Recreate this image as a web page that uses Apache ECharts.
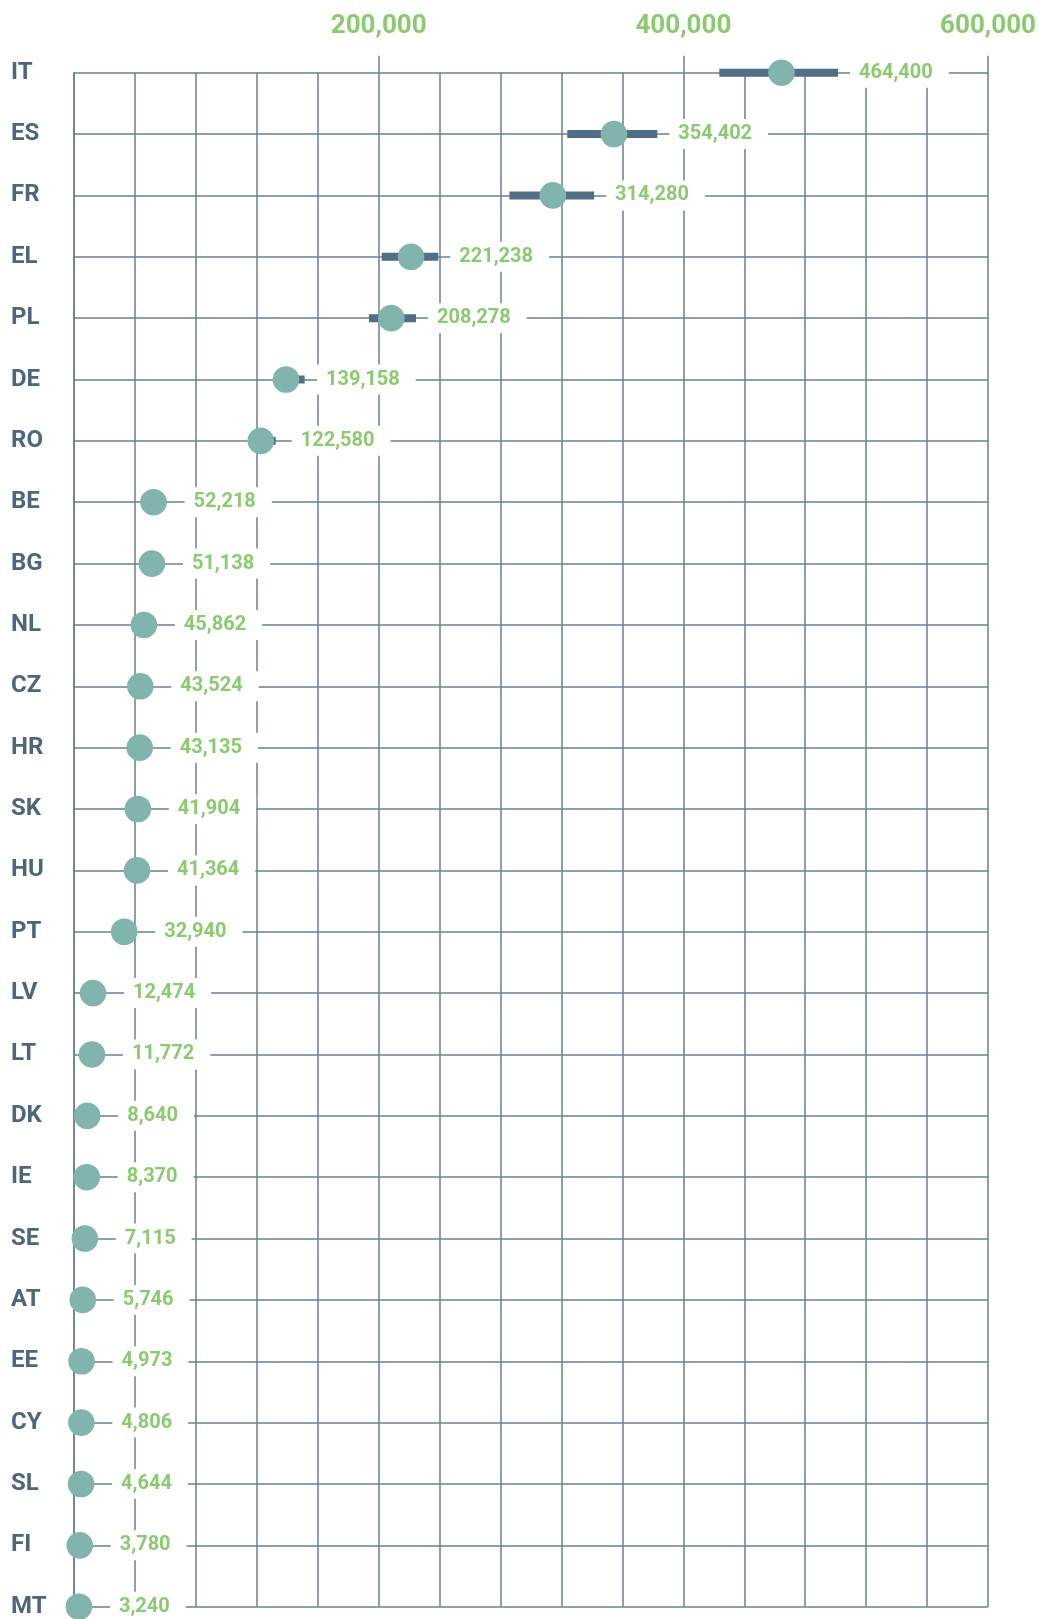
<!DOCTYPE html>
<html>
<head>
<meta charset="utf-8">
<script src="https://cdn.jsdelivr.net/npm/echarts@6/dist/echarts.min.js"></script>
<style>
html,body{margin:0;padding:0;background:#fff;}
#c{width:1039px;height:1619px;}
</style>
</head>
<body>
<div id="c"></div>
<script>
const categories = ['IT','ES','FR','EL','PL','DE','RO','BE','BG','NL','CZ','HR','SK','HU','PT','LV','LT','DK','IE','SE','AT','EE','CY','SL','FI','MT'];
const values = [464400,354402,314280,221238,208278,139158,122580,52218,51138,45862,43524,43135,41904,41364,32940,12474,11772,8640,8370,7115,5746,4973,4806,4644,3780,3240];
const lowerBounds = [423600,323800,285800,202000,193600,133000,116500,49000,48000,43000,40800,40500,39300,38800,30900,11700,11000,8100,7800,6600,5400,4600,4500,4300,3500,3000];
const upperBounds = [501500,382900,341400,239100,224500,151400,132400,55400,54300,48700,46200,45800,44500,43900,35000,13200,12500,9200,8900,7600,6100,5300,5100,5000,4100,3500];
const majorTicks = [200000,400000,600000];

const GRID = '#687f96';
const GREEN = '#8cca72';
const SLATE = '#4e667c';
const CIRCLE = '#82b4ae';
const BAR = '#516e86';

const data = categories.map((c,i)=>[values[i], i, lowerBounds[i], upperBounds[i]]);

const chart = echarts.init(document.getElementById('c'));
chart.setOption({
  animation:false,
  backgroundColor:'#fff',
  grid:{left:74, right:50.7, top:72.7, bottom:12.3},
  xAxis:[{
    type:'value', min:0, max:600000, interval:40000, position:'top',
    axisLine:{show:false}, axisTick:{show:false}, axisLabel:{show:false},
    splitLine:{show:true, lineStyle:{color:GRID, width:1.5}}
  },{
    type:'value', min:0, max:600000, interval:200000, position:'top',
    axisLine:{show:false},
    axisTick:{show:true, length:17, customValues:majorTicks, lineStyle:{color:GRID, width:1.5}},
    axisLabel:{show:true, margin:33, customValues:majorTicks, color:GREEN, fontFamily:'Roboto', fontWeight:'bold', fontSize:26,
      formatter:function(v){ return majorTicks.indexOf(v)>=0 ? v.toLocaleString('en-US') : ''; }},
    splitLine:{show:false}
  }],
  yAxis:{
    type:'category', data:categories, inverse:true, boundaryGap:false,
    axisLine:{show:true, lineStyle:{color:GRID, width:1.5}},
    axisTick:{show:false},
    axisLabel:{interval:0, align:'left', margin:63, color:SLATE, fontFamily:'Roboto', fontWeight:'bold', fontSize:24},
    splitLine:{show:true, interval:0, lineStyle:{color:GRID, width:1.5}}
  },
  series:[{
    type:'custom',
    xAxisIndex:0, yAxisIndex:0,
    encode:{x:0, y:1},
    data:data,
    clip:false,
    renderItem:function(params, api){
      const v = api.value(0), idx = api.value(1), lo = api.value(2), hi = api.value(3);
      const p = api.coord([v, idx]);
      const pl = api.coord([lo, idx]);
      const ph = api.coord([hi, idx]);
      const lx = Math.max(p[0] + 31, ph[0] + 12);
      return {
        type:'group',
        children:[
          {type:'rect', shape:{x:pl[0], y:p[1]-4, width:ph[0]-pl[0], height:8}, style:{fill:BAR}},
          {type:'circle', shape:{cx:p[0], cy:p[1], r:13.3}, style:{fill:CIRCLE}},
          {type:'text', x:lx, y:p[1], style:{
            text:v.toLocaleString('en-US'), fill:GREEN,
            font:'bold 20px Roboto', align:'left', verticalAlign:'middle',
            lineHeight:20, backgroundColor:'#fff', padding:[5,16,5,9]
          }}
        ]
      };
    }
  }]
});
</script>
</body>
</html>
